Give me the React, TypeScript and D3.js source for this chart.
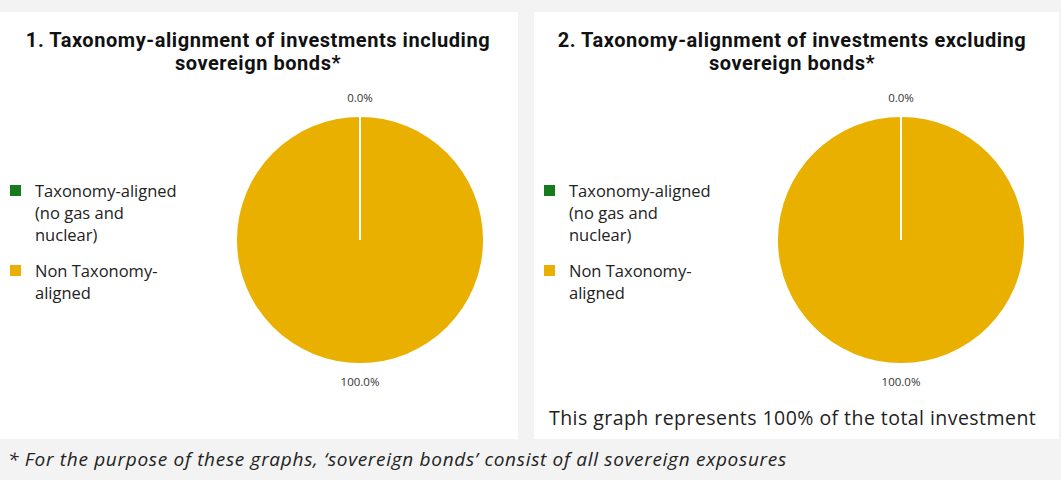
import React from "react";
import * as d3 from "d3";

const categories = ["Taxonomy-aligned (no gas and nuclear)", "Non Taxonomy-aligned"];
const legendLines = [["Taxonomy-aligned", "(no gas and", "nuclear)"], ["Non Taxonomy-", "aligned"]];
const colors = ["#177a1d", "#e9b000"];
const chart1Values = [0, 100];
const chart2Values = [0, 100];
const chartTitles = [
  ["1. Taxonomy-alignment of investments including", "sovereign bonds*"],
  ["2. Taxonomy-alignment of investments excluding", "sovereign bonds*"],
];
const note = "This graph represents 100% of the total investment";
const footnote = "* For the purpose of these graphs, \u2018sovereign bonds\u2019 consist of all sovereign exposures";

const W = 1061;
const H = 480;
const panels = [
  { x: 0, w: 518, values: chart1Values, title: chartTitles[0], cx: 360 },
  { x: 534, w: 525, values: chart2Values, title: chartTitles[1], cx: 901 },
];

const R = 123;
const cy = 240;

function Panel({ p, showNote }: { p: any; showNote: boolean }) {
  const pie = d3.pie<number>().sort(null).value((d) => d)(p.values);
  const arc = d3.arc<d3.PieArcDatum<number>>().innerRadius(0).outerRadius(R);
  const labelArc = d3.arc<d3.PieArcDatum<number>>().innerRadius(142).outerRadius(142);
  const fmt = (v: number) => (v / d3.sum(p.values) * 100).toFixed(1) + "%";
  return (
    <g>
      <rect x={p.x} y={12} width={p.w} height={427} fill="#ffffff" />
      {p.title.map((t: string, i: number) => (
        <text key={i} x={p.x + 258} y={47 + i * 23} textAnchor="middle" fontFamily="Roboto, sans-serif" fontWeight="bold" fontSize={20} letterSpacing={0.55} fill="#111">
          {t}
        </text>
      ))}
      {legendLines.map((lines, i) => (
        <g key={i}>
          <rect x={p.x + 10} y={185 + i * 80} width={11} height={11} fill={colors[i]} />
          {lines.map((l, j) => (
            <text key={j} x={p.x + 35} y={197 + i * 80 + j * 22} fontFamily="'Open Sans', sans-serif" fontSize={16.5} fill="#222">
              {l}
            </text>
          ))}
        </g>
      ))}
      <g transform={`translate(${p.cx},${cy})`}>
        {pie.slice().reverse().map((d, i) => (
          <path key={i} d={arc(d) || ""} fill={colors[d.index]} stroke={d.value === 0 ? "#ffffff" : "none"} strokeWidth={2} />
        ))}
        {pie.map((d, i) => {
          const [lx, ly] = labelArc.centroid(d);
          return (
            <text key={i} x={lx} y={ly + 1} textAnchor="middle" dominantBaseline="middle" fontFamily="'Open Sans', sans-serif" fontSize={11.5} fill="#333">
              {fmt(d.value)}
            </text>
          );
        })}
      </g>
      {showNote && (
        <text x={p.x + 15} y={425} fontFamily="'Open Sans', sans-serif" fontSize={19.5} letterSpacing={0.45} fill="#222">
          {note}
        </text>
      )}
    </g>
  );
}

export default function App() {
  return (
    <svg width={W} height={H} style={{ position: "absolute", left: 0, top: 0 }}>
      <rect x={0} y={0} width={W} height={H} fill="#f3f3f3" />
      {panels.map((p, i) => (
        <Panel key={i} p={p} showNote={i === 1} />
      ))}
      <text x={8} y={466} fontFamily="'Open Sans', sans-serif" fontStyle="italic" fontSize={19} letterSpacing={0.7} fill="#222">
        {footnote}
      </text>
    </svg>
  );
}
